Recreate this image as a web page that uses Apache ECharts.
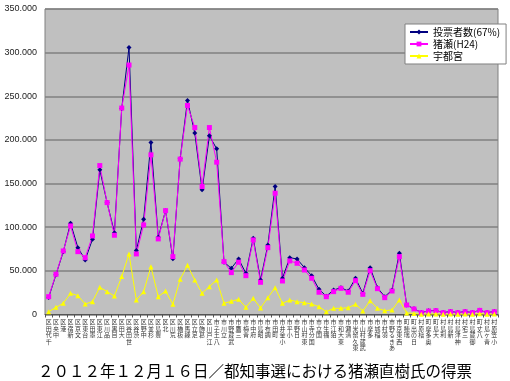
<!DOCTYPE html>
<html><head><meta charset="utf-8">
<script src="https://cdn.jsdelivr.net/npm/echarts@6/dist/echarts.min.js"></script>
<style>html,body{margin:0;padding:0;background:#fff;}#c{width:510px;height:381px;}</style>
</head><body><div id="c"></div>
<script>
const categories = ["千代田区","中央区","港区","新宿区","文京区","台東区","墨田区","江東区","品川区","目黒区","大田区","世田谷区","渋谷区","中野区","杉並区","豊島区","北区","荒川区","板橋区","練馬区","足立区","葛飾区","江戸川区",
"八王子市","立川市","武蔵野市","三鷹市","青梅市","府中市","昭島市","調布市","町田市","小金井市","小平市","日野市","東村山市","国分寺市","国立市","福生市","狛江市","東大和市","清瀬市","東久留米市","武蔵村山市","多摩市","稲城市","羽村市","あきる野市","西東京市",
"瑞穂町","日の出町","檜原村","奥多摩町","大島町","利島村","新島村","神津島村","三宅村","御蔵島村","八丈町","青ヶ島村","小笠原村"];
const voters67 = [19500,45500,72000,104600,76600,62500,86200,165700,128200,93800,236000,306000,73200,109200,197000,88500,119000,64000,178500,245200,207800,142800,204700,
189800,60000,53000,63600,47200,87400,39600,79700,146600,41500,65100,63600,53700,44500,28900,21000,28100,30700,26900,41500,24300,53700,30700,20400,28100,70200,
11000,6500,2300,4200,4600,2200,3400,2200,3400,2200,4900,2200,3400];
const inose = [20400,46100,72800,101500,72000,65100,90000,170600,128200,90800,236500,285800,69400,102600,182900,86600,119000,66300,178000,239500,214200,146600,214200,
174500,60600,48000,59900,44500,85400,36900,76600,139000,38400,61400,58700,51000,41500,25500,20400,26200,30000,25500,38800,23100,50200,29600,19300,26900,66300,
10900,6300,2100,4000,4400,2100,3200,2100,3200,2100,4700,2100,3200];
const utsunomiya = [3200,8200,12800,24300,21600,12000,14700,31200,26200,21200,43400,69400,16600,26200,54800,20400,26900,11700,40300,56400,39600,24300,31900,
39600,12800,15100,17400,8200,18500,7500,19300,30700,12800,16600,14700,13500,12000,8900,3200,7100,7100,7800,11700,4000,15800,7100,4400,5200,16600,
1800,1200,300,600,700,300,500,300,500,300,1000,300,500];
const seriesNames = ["投票者数(67%)","猪瀬(H24)","宇都宮"];
const title = "２０１２年１２月１６日／都知事選における猪瀬直樹氏の得票";

const chart = echarts.init(document.getElementById('c'), null, {renderer:'canvas'});
const jp = '"Noto Sans CJK JP", sans-serif';
chart.setOption({
  animation:false,
  backgroundColor:'#ffffff',
  title:{text:title,left:'center',top:358,textStyle:{fontFamily:jp,fontSize:15.5,fontWeight:'normal',color:'#000'}},
  legend:{
    orient:'vertical',left:405,top:24,
    backgroundColor:'#ffffff',borderColor:'#808080',borderWidth:1,
    padding:[3,6,3,4],itemGap:2,itemWidth:18,itemHeight:6,
    textStyle:{fontFamily:jp,fontSize:10,color:'#000'},
    data:seriesNames
  },
  grid:{left:45,right:12,top:9,bottom:66.5,show:true,backgroundColor:'#c0c0c0',borderColor:'#808080',borderWidth:1},
  xAxis:{
    type:'category',data:categories,boundaryGap:true,
    axisLine:{lineStyle:{color:'#555',width:1}},
    axisTick:{show:true,length:3,lineStyle:{color:'#555'}},
    axisLabel:{interval:0,margin:4,fontFamily:jp,fontSize:6,lineHeight:6.6,color:'#333',verticalAlign:'top',
      formatter:v=>Array.from(v).reverse().join('\n')}
  },
  yAxis:{
    type:'value',min:0,max:350000,interval:50000,
    axisLine:{show:false},axisTick:{show:false},
    splitLine:{lineStyle:{color:'#808080',width:1.5}},
    axisLabel:{margin:8,fontFamily:'"Liberation Sans", sans-serif',fontSize:9,color:'#222',
      formatter:v=>v.toLocaleString('en-US').replace(/,/g,'.')}
  },
  series:[
    {name:seriesNames[0],type:'line',data:voters67,symbol:'diamond',symbolSize:5,
      lineStyle:{color:'#000080',width:1},itemStyle:{color:'#000080'}},
    {name:seriesNames[1],type:'line',data:inose,symbol:'rect',symbolSize:5,
      lineStyle:{color:'#ff00ff',width:1},itemStyle:{color:'#ff00ff'}},
    {name:seriesNames[2],type:'line',data:utsunomiya,symbol:'triangle',symbolSize:5,
      lineStyle:{color:'#ffff00',width:1},itemStyle:{color:'#ffff00'}}
  ]
});
</script></body></html>
